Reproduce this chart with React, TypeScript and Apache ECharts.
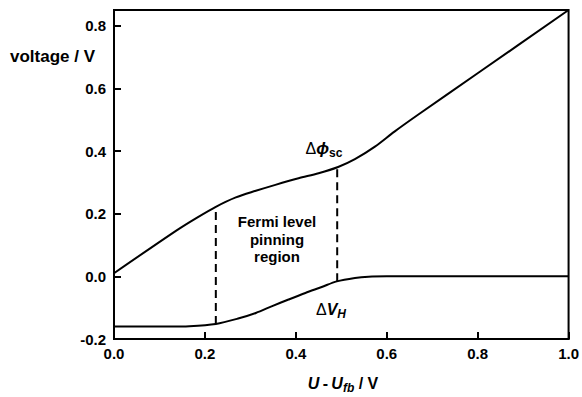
import React, { useEffect, useRef } from "react";
import * as echarts from "echarts";

const xTicks = [0, 0.2, 0.4, 0.6, 0.8, 1.0];
const yTicks = [-0.2, 0, 0.2, 0.4, 0.6, 0.8];

const phiScX = [0, 0.137, 0.181, 0.224, 0.268, 0.312, 0.355, 0.406, 0.45, 0.493, 0.53, 0.574, 0.617, 0.668, 0.8, 1.0];
const phiScY = [0.01, 0.146, 0.186, 0.222, 0.252, 0.273, 0.292, 0.313, 0.329, 0.349, 0.374, 0.414, 0.462, 0.515, 0.648, 0.85];

const vhX = [0, 0.12, 0.166, 0.224, 0.275, 0.312, 0.348, 0.384, 0.421, 0.457, 0.49, 0.53, 0.56, 0.6, 0.65, 1.0];
const vhY = [-0.16, -0.16, -0.159, -0.152, -0.134, -0.117, -0.095, -0.074, -0.053, -0.034, -0.016, -0.005, -0.001, 0, 0, 0];

const dashLeftX = [0.224, 0.224];
const dashLeftY = [-0.152, 0.222];
const dashRightX = [0.491, 0.491];
const dashRightY = [-0.016, 0.348];

const zip = (xs: number[], ys: number[]) => xs.map((x, i) => [x, ys[i]]);

const FONT = "Liberation Sans, Arial, sans-serif";

export default function App() {
  const ref = useRef<HTMLDivElement>(null);
  useEffect(() => {
    document.body.style.margin = "0";
    if (!ref.current) return;
    const chart = echarts.init(ref.current, undefined, { renderer: "svg" });
    const line = { color: "#000", width: 2 };
    const dashed = { color: "#000", width: 2, type: [8, 5] as any };
    chart.setOption({
      animation: false,
      backgroundColor: "#fff",
      grid: {
        left: 114,
        right: 10,
        top: 10,
        bottom: 58,
        show: true,
        borderColor: "#000",
        borderWidth: 2,
      },
      xAxis: {
        type: "value",
        min: 0,
        max: 1,
        interval: 0.2,
        axisLine: { onZero: false, lineStyle: { color: "#000", width: 2 } },
        axisTick: { inside: true, length: 7, customValues: xTicks, lineStyle: { color: "#000", width: 2 } },
        splitLine: { show: false },
        axisLabel: {
          color: "#000",
          fontFamily: FONT,
          fontWeight: "bold",
          fontSize: 15,
          margin: 7,
          customValues: xTicks,
          formatter: (v: number) => v.toFixed(1),
        },
      },
      yAxis: {
        type: "value",
        min: -0.2,
        max: 0.85,
        axisLine: { onZero: false, lineStyle: { color: "#000", width: 2 } },
        axisTick: {
          inside: true,
          length: 7,
          customValues: yTicks,
          lineStyle: { color: "#000", width: 2 },
        },
        splitLine: { show: false },
        axisLabel: {
          color: "#000",
          fontFamily: FONT,
          fontWeight: "bold",
          fontSize: 15,
          margin: 8,
          customValues: yTicks,
          formatter: (v: number) => v.toFixed(1),
        },
      },
      series: [
        { type: "line", data: zip(phiScX, phiScY), showSymbol: false, smooth: 0.3, lineStyle: line },
        { type: "line", data: zip(vhX, vhY), showSymbol: false, smooth: 0.3, lineStyle: line },
        { type: "line", data: zip(dashLeftX, dashLeftY), showSymbol: false, lineStyle: dashed },
        { type: "line", data: zip(dashRightX, dashRightY), showSymbol: false, lineStyle: dashed },
      ],
      graphic: [
        {
          type: "text",
          left: 10,
          top: 48,
          style: { text: "voltage / V", fill: "#000", font: `bold 17px ${FONT}` },
        },
        {
          type: "text",
          x: 343,
          y: 383,
          style: {
            text: "{i|U} {b|-} {i|U}{s|fb}{b| / V}",
            align: "center",
            verticalAlign: "middle",
            rich: {
              i: { fontFamily: FONT, fontWeight: "bold", fontStyle: "italic", fontSize: 16, fill: "#000" },
              b: { fontFamily: FONT, fontWeight: "bold", fontSize: 16, fill: "#000" },
              s: { fontFamily: FONT, fontWeight: "bold", fontStyle: "italic", fontSize: 12, fill: "#000", padding: [9, 0, 0, 0] },
            },
          },
        },
        {
          type: "text",
          x: 277,
          y: 239,
          style: {
            text: "Fermi level\npinning\nregion",
            align: "center",
            verticalAlign: "middle",
            lineHeight: 17.5,
            fill: "#000",
            font: `bold 15px ${FONT}`,
          },
        },
        {
          type: "text",
          x: 324,
          y: 148,
          style: {
            text: "{d|Δ}{p|ϕ}{s|sc}",
            align: "center",
            verticalAlign: "middle",
            rich: {
              d: { fontFamily: FONT, fontSize: 16, fill: "#000" },
              p: { fontFamily: FONT, fontWeight: "bold", fontStyle: "italic", fontSize: 17, fill: "#000" },
              s: { fontFamily: FONT, fontWeight: "bold", fontSize: 12, fill: "#000", padding: [9, 0, 0, 0] },
            },
          },
        },
        {
          type: "text",
          x: 331,
          y: 309,
          style: {
            text: "{d|Δ}{v|V}{s|H}",
            align: "center",
            verticalAlign: "middle",
            rich: {
              d: { fontFamily: FONT, fontSize: 16, fill: "#000" },
              v: { fontFamily: FONT, fontWeight: "bold", fontStyle: "italic", fontSize: 16, fill: "#000" },
              s: { fontFamily: FONT, fontWeight: "bold", fontStyle: "italic", fontSize: 12, fill: "#000", padding: [9, 0, 0, 0] },
            },
          },
        },
      ],
    });
    return () => chart.dispose();
  }, []);
  return <div ref={ref} style={{ width: 582, height: 397 }} />;
}
